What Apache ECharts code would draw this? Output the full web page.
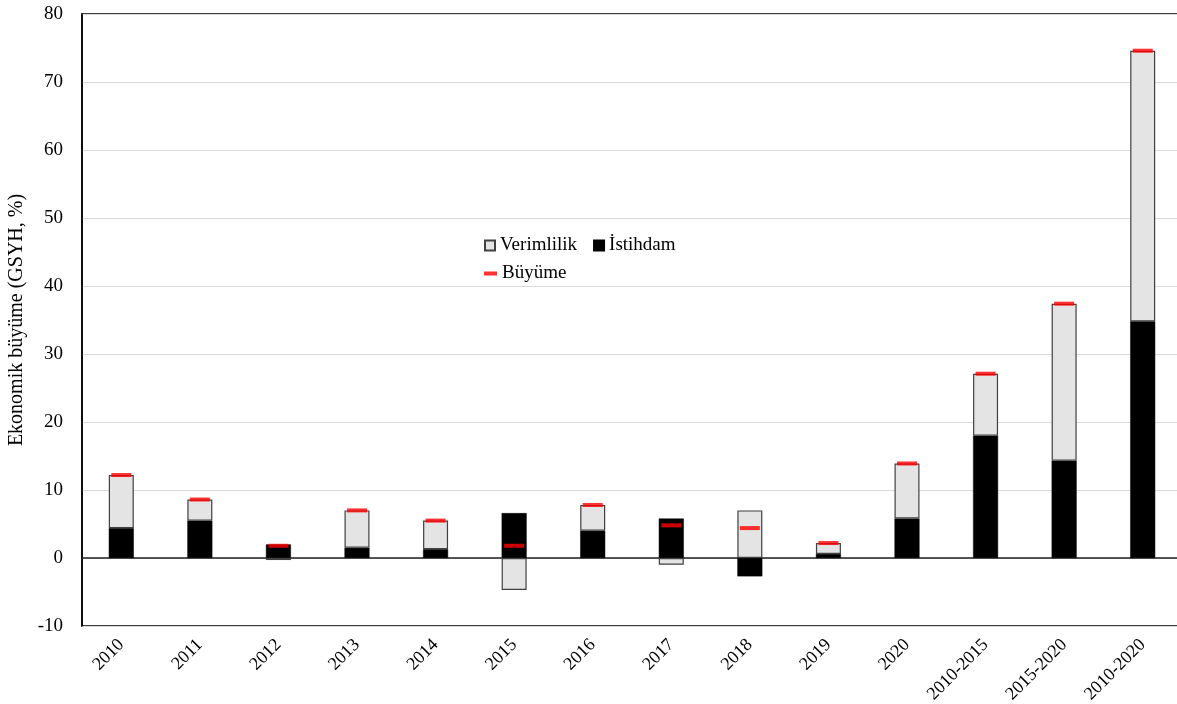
<!DOCTYPE html>
<html>
<head>
<meta charset="utf-8">
<script src="https://cdn.jsdelivr.net/npm/echarts@6/dist/echarts.min.js"></script>
<style>
html,body{margin:0;padding:0;background:#fff;}
#chart{width:1177px;height:704px;}
</style>
</head>
<body>
<div id="chart"></div>
<script>
const categories = ['2010','2011','2012','2013','2014','2015','2016','2017','2018','2019','2020','2010-2015','2015-2020','2010-2020'];
const istihdam   = [4.4, 5.5, 2.0, 1.5, 1.3, 6.6, 4.0, 5.8, -2.7, 0.6, 5.8, 18.0, 14.3, 34.8];
const verimlilik = [7.8, 3.1, -0.3, 5.5, 4.2, -4.7, 3.8, -1.0, 7.0, 1.6, 8.1, 9.1, 23.1, 39.8];
const buyume     = [12.2, 8.6, 1.8, 7.0, 5.5, 1.8, 7.8, 4.8, 4.4, 2.2, 13.9, 27.1, 37.4, 74.6];
const yTicks = [-10, 0, 10, 20, 30, 40, 50, 60, 70, 80];

const FONT = '"Liberation Serif", "Times New Roman", serif';
const chart = echarts.init(document.getElementById('chart'));
chart.setOption({
  animation: false,
  backgroundColor: '#fff',
  textStyle: { fontFamily: FONT, color: '#000' },
  grid: { left: 82, top: 14, width: 1100, height: 612, outerBoundsMode: 'none', containLabel: false,
          show: true, borderColor: '#000', borderWidth: 1.5, backgroundColor: 'transparent' },
  legend: [
    { left: 479, top: 231, itemWidth: 10, itemHeight: 10, itemGap: 16, itemTextGap: 4, icon: 'rect',
      textStyle: { fontFamily: FONT, fontSize: 19, color: '#000' },
      data: ['Verimlilik', 'İstihdam'] },
    { left: 479, top: 259, itemWidth: 13, itemHeight: 4, itemTextGap: 4, icon: 'rect',
      textStyle: { fontFamily: FONT, fontSize: 19, color: '#000' },
      data: ['Büyüme'] }
  ],
  xAxis: {
    type: 'category', data: categories,
    axisLine: { onZero: true, lineStyle: { color: '#222', width: 1.5 } },
    axisTick: { show: false },
    axisLabel: { rotate: 45, fontFamily: FONT, fontSize: 18, color: '#000', interval: 0, margin: 16 },
    splitLine: { show: false }
  },
  yAxis: {
    type: 'value', min: yTicks[0], max: yTicks[yTicks.length - 1], interval: 10,
    name: 'Ekonomik büyüme (GSYH, %)', nameLocation: 'middle', nameGap: 54,
    nameTextStyle: { fontFamily: FONT, fontSize: 20, color: '#000' },
    axisLine: { show: true, lineStyle: { color: '#000', width: 1.5 } },
    axisTick: { show: false },
    axisLabel: { fontFamily: FONT, fontSize: 19, color: '#000', margin: 19 },
    splitLine: { show: true, lineStyle: { color: '#d9d9d9', width: 1 } }
  },
  series: [
    { name: 'İstihdam', type: 'bar', stack: 'g', data: istihdam, barWidth: 25,
      itemStyle: { color: '#000', borderColor: '#000', borderWidth: 0.5 } },
    { name: 'Verimlilik', type: 'bar', stack: 'g', data: verimlilik, barWidth: 25,
      itemStyle: { color: '#e4e4e4', borderColor: '#404040', borderWidth: 1.2 } },
    { name: 'Büyüme', type: 'scatter', data: buyume, symbol: 'rect', symbolSize: [20, 4], z: 10,
      itemStyle: { color: '#ff0000' } }
  ]
});
</script>
</body>
</html>
